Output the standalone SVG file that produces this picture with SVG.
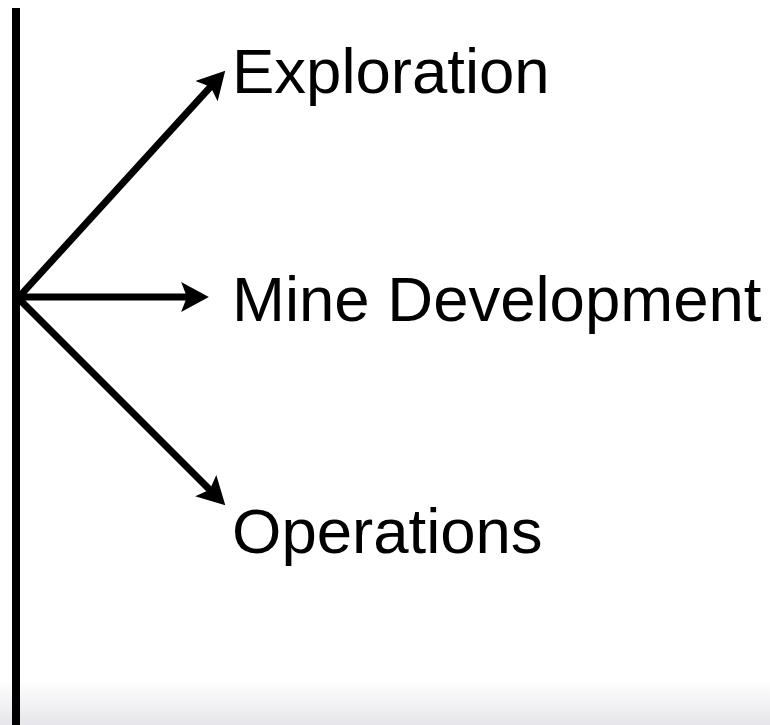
<svg xmlns="http://www.w3.org/2000/svg" width="770" height="725" viewBox="0 0 770 725">
<style>
.lbl{font-family:"Liberation Sans",Arial,sans-serif;font-size:63.5px;fill:#000}
.arr{stroke:#000;stroke-width:7;fill:none;marker-end:url(#ah)}
</style>
<defs>
<marker id="ah" markerUnits="userSpaceOnUse" markerWidth="30" markerHeight="30" refX="12" refY="13" orient="auto" viewBox="0 0 26 26">
<path d="M0,0 L24,13 L0,26 L5,13 Z" fill="#000"/>
</marker>
<linearGradient id="bg" x1="0" y1="0" x2="0" y2="1">
<stop offset="0" stop-color="#ffffff"/>
<stop offset="1" stop-color="#e6e6ea"/>
</linearGradient>
</defs>
<rect width="770" height="725" fill="#fff"/>
<rect x="0" y="680" width="770" height="45" fill="url(#bg)"/>
<g id="connectors">
<line x1="16" y1="8" x2="16" y2="725" stroke="#000" stroke-width="8"/>
<line class="arr" x1="18" y1="298" x2="215.9" y2="80.9"/>
<line class="arr" x1="18" y1="297" x2="195" y2="297"/>
<line class="arr" x1="18" y1="298" x2="215.5" y2="495.5"/>
</g>
<g id="exploration"><text class="lbl" x="232" y="93">Exploration</text></g>
<g id="mine-development"><text class="lbl" x="232" y="321">Mine Development</text></g>
<g id="operations"><text class="lbl" x="232" y="553">Operations</text></g>
</svg>
